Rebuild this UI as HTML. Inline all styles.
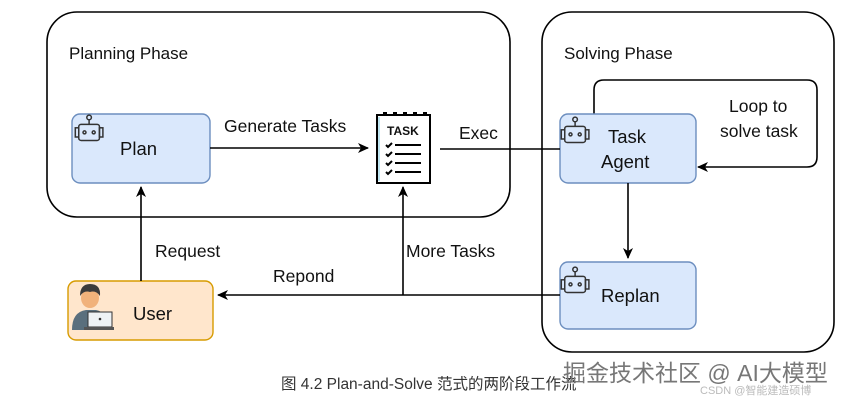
<!DOCTYPE html>
<html><head><meta charset="utf-8"><style>
html,body{margin:0;padding:0;background:#fff;width:861px;height:402px;overflow:hidden}
svg{display:block}
text{font-family:"Liberation Sans","Noto Sans CJK SC",sans-serif;fill:#111}
</style></head><body>
<svg width="861" height="402" viewBox="0 0 861 402" xmlns="http://www.w3.org/2000/svg">
<defs>
<marker id="a" markerWidth="12" markerHeight="12" refX="10" refY="6" orient="auto" markerUnits="userSpaceOnUse">
<path d="M0,1 L11,6 L0,11 L3,6 Z" fill="#000"/></marker>
<g id="bot" fill="none" stroke="#333" stroke-width="1.3">
<circle cx="14" cy="3" r="2"/><line x1="14" y1="5" x2="14" y2="9"/>
<rect x="5" y="9" width="18" height="14" rx="2"/>
<rect x="2" y="12" width="3" height="8"/><rect x="23" y="12" width="3" height="8"/>
<circle cx="10" cy="16" r="1.3"/><circle cx="18" cy="16" r="1.3"/>
</g>
</defs>
<rect x="47" y="12" width="463" height="205" rx="30" fill="none" stroke="#000" stroke-width="1.6"/>
<rect x="542" y="12" width="292" height="340" rx="30" fill="none" stroke="#000" stroke-width="1.6"/>
<text x="69" y="59" font-size="17">Planning Phase</text>
<text x="564" y="59" font-size="17">Solving Phase</text>

<path d="M594,114 V90 Q594,80 604,80 H807 Q817,80 817,90 V157 Q817,167 807,167 H698" fill="none" stroke="#000" stroke-width="1.6" marker-end="url(#a)"/>
<text x="729" y="112" font-size="17.5">Loop to</text>
<text x="720" y="137" font-size="17.5">solve task</text>

<rect x="72" y="114" width="138" height="69" rx="8" fill="#dae8fc" stroke="#6c8ebf" stroke-width="1.4"/>
<use href="#bot" transform="translate(73,114) scale(1.15)"/>
<text x="120" y="155" font-size="18.5">Plan</text>

<rect x="560" y="114" width="136" height="69" rx="8" fill="#dae8fc" stroke="#6c8ebf" stroke-width="1.4"/>
<use href="#bot" transform="translate(559,116) scale(1.15)"/>
<text x="608" y="143" font-size="18.5">Task</text>
<text x="601" y="168" font-size="18.5">Agent</text>

<rect x="560" y="262" width="136" height="67" rx="8" fill="#dae8fc" stroke="#6c8ebf" stroke-width="1.4"/>
<use href="#bot" transform="translate(559,266) scale(1.15)"/>
<text x="601" y="302" font-size="18.5">Replan</text>

<rect x="68" y="281" width="145" height="59" rx="8" fill="#ffe6cc" stroke="#d79b00" stroke-width="1.4"/>
<path d="M72,330 Q72,312 86,310 L96,310 Q108,312 108,330 Z" fill="#5a6f7d"/>
<ellipse cx="90" cy="298" rx="9" ry="10" fill="#f1b27b"/>
<path d="M80,296 Q80,284 90,284 Q101,284 100,296 Q96,290 90,292 Q84,290 80,296Z" fill="#3b3b3b"/>
<rect x="88" y="312" width="24" height="15" fill="#eef2f5" stroke="#333" stroke-width="1"/>
<rect x="84" y="327" width="30" height="3" fill="#555"/>
<circle cx="100" cy="319" r="1.3" fill="#333"/>
<text x="133" y="320" font-size="18.5">User</text>

<rect x="377" y="115" width="53" height="68" fill="#fff" stroke="#000" stroke-width="2"/>
<line x1="379" y1="117" x2="379" y2="181" stroke="#bfe6f2" stroke-width="2"/>
<g fill="#000"><rect x="383" y="112" width="4" height="4"/><rect x="393" y="112" width="4" height="4"/><rect x="403" y="112" width="4" height="4"/><rect x="413" y="112" width="4" height="4"/><rect x="423" y="112" width="4" height="4"/></g>
<text x="387" y="135" font-size="12" font-weight="bold">TASK</text>
<g stroke="#000" stroke-width="2" fill="none">
<path d="M386,145 l2,2 l4,-4"/><line x1="395" y1="145" x2="421" y2="145"/>
<path d="M386,154 l2,2 l4,-4"/><line x1="395" y1="154" x2="421" y2="154"/>
<path d="M386,163 l2,2 l4,-4"/><line x1="395" y1="163" x2="421" y2="163"/>
<path d="M386,172 l2,2 l4,-4"/><line x1="395" y1="172" x2="421" y2="172"/>
</g>

<g stroke="#000" stroke-width="1.6" fill="none">
<line x1="210" y1="148" x2="368" y2="148" marker-end="url(#a)"/>
<line x1="440" y1="149" x2="560" y2="149"/>
<line x1="628" y1="183" x2="628" y2="258" marker-end="url(#a)"/>
<line x1="560" y1="295" x2="218" y2="295" marker-end="url(#a)"/>
<line x1="403" y1="295" x2="403" y2="187" marker-end="url(#a)"/>
<line x1="141" y1="281" x2="141" y2="187" marker-end="url(#a)"/>
</g>
<text x="224" y="132" font-size="17.5">Generate Tasks</text>
<text x="459" y="139" font-size="17.5">Exec</text>
<text x="155" y="257" font-size="17.5">Request</text>
<text x="406" y="257" font-size="17.5">More Tasks</text>
<text x="273" y="282" font-size="17.5">Repond</text>

<text x="281" y="389" font-size="15.5" style="fill:#333">图 4.2 Plan-and-Solve 范式的两阶段工作流</text>
<text x="563" y="381" font-size="23" style="fill:#777">掘金技术社区 @ AI大模型</text>
<text x="700" y="394" font-size="11" style="fill:#bbb">CSDN @智能建造硕博</text>
</svg>
</body></html>
